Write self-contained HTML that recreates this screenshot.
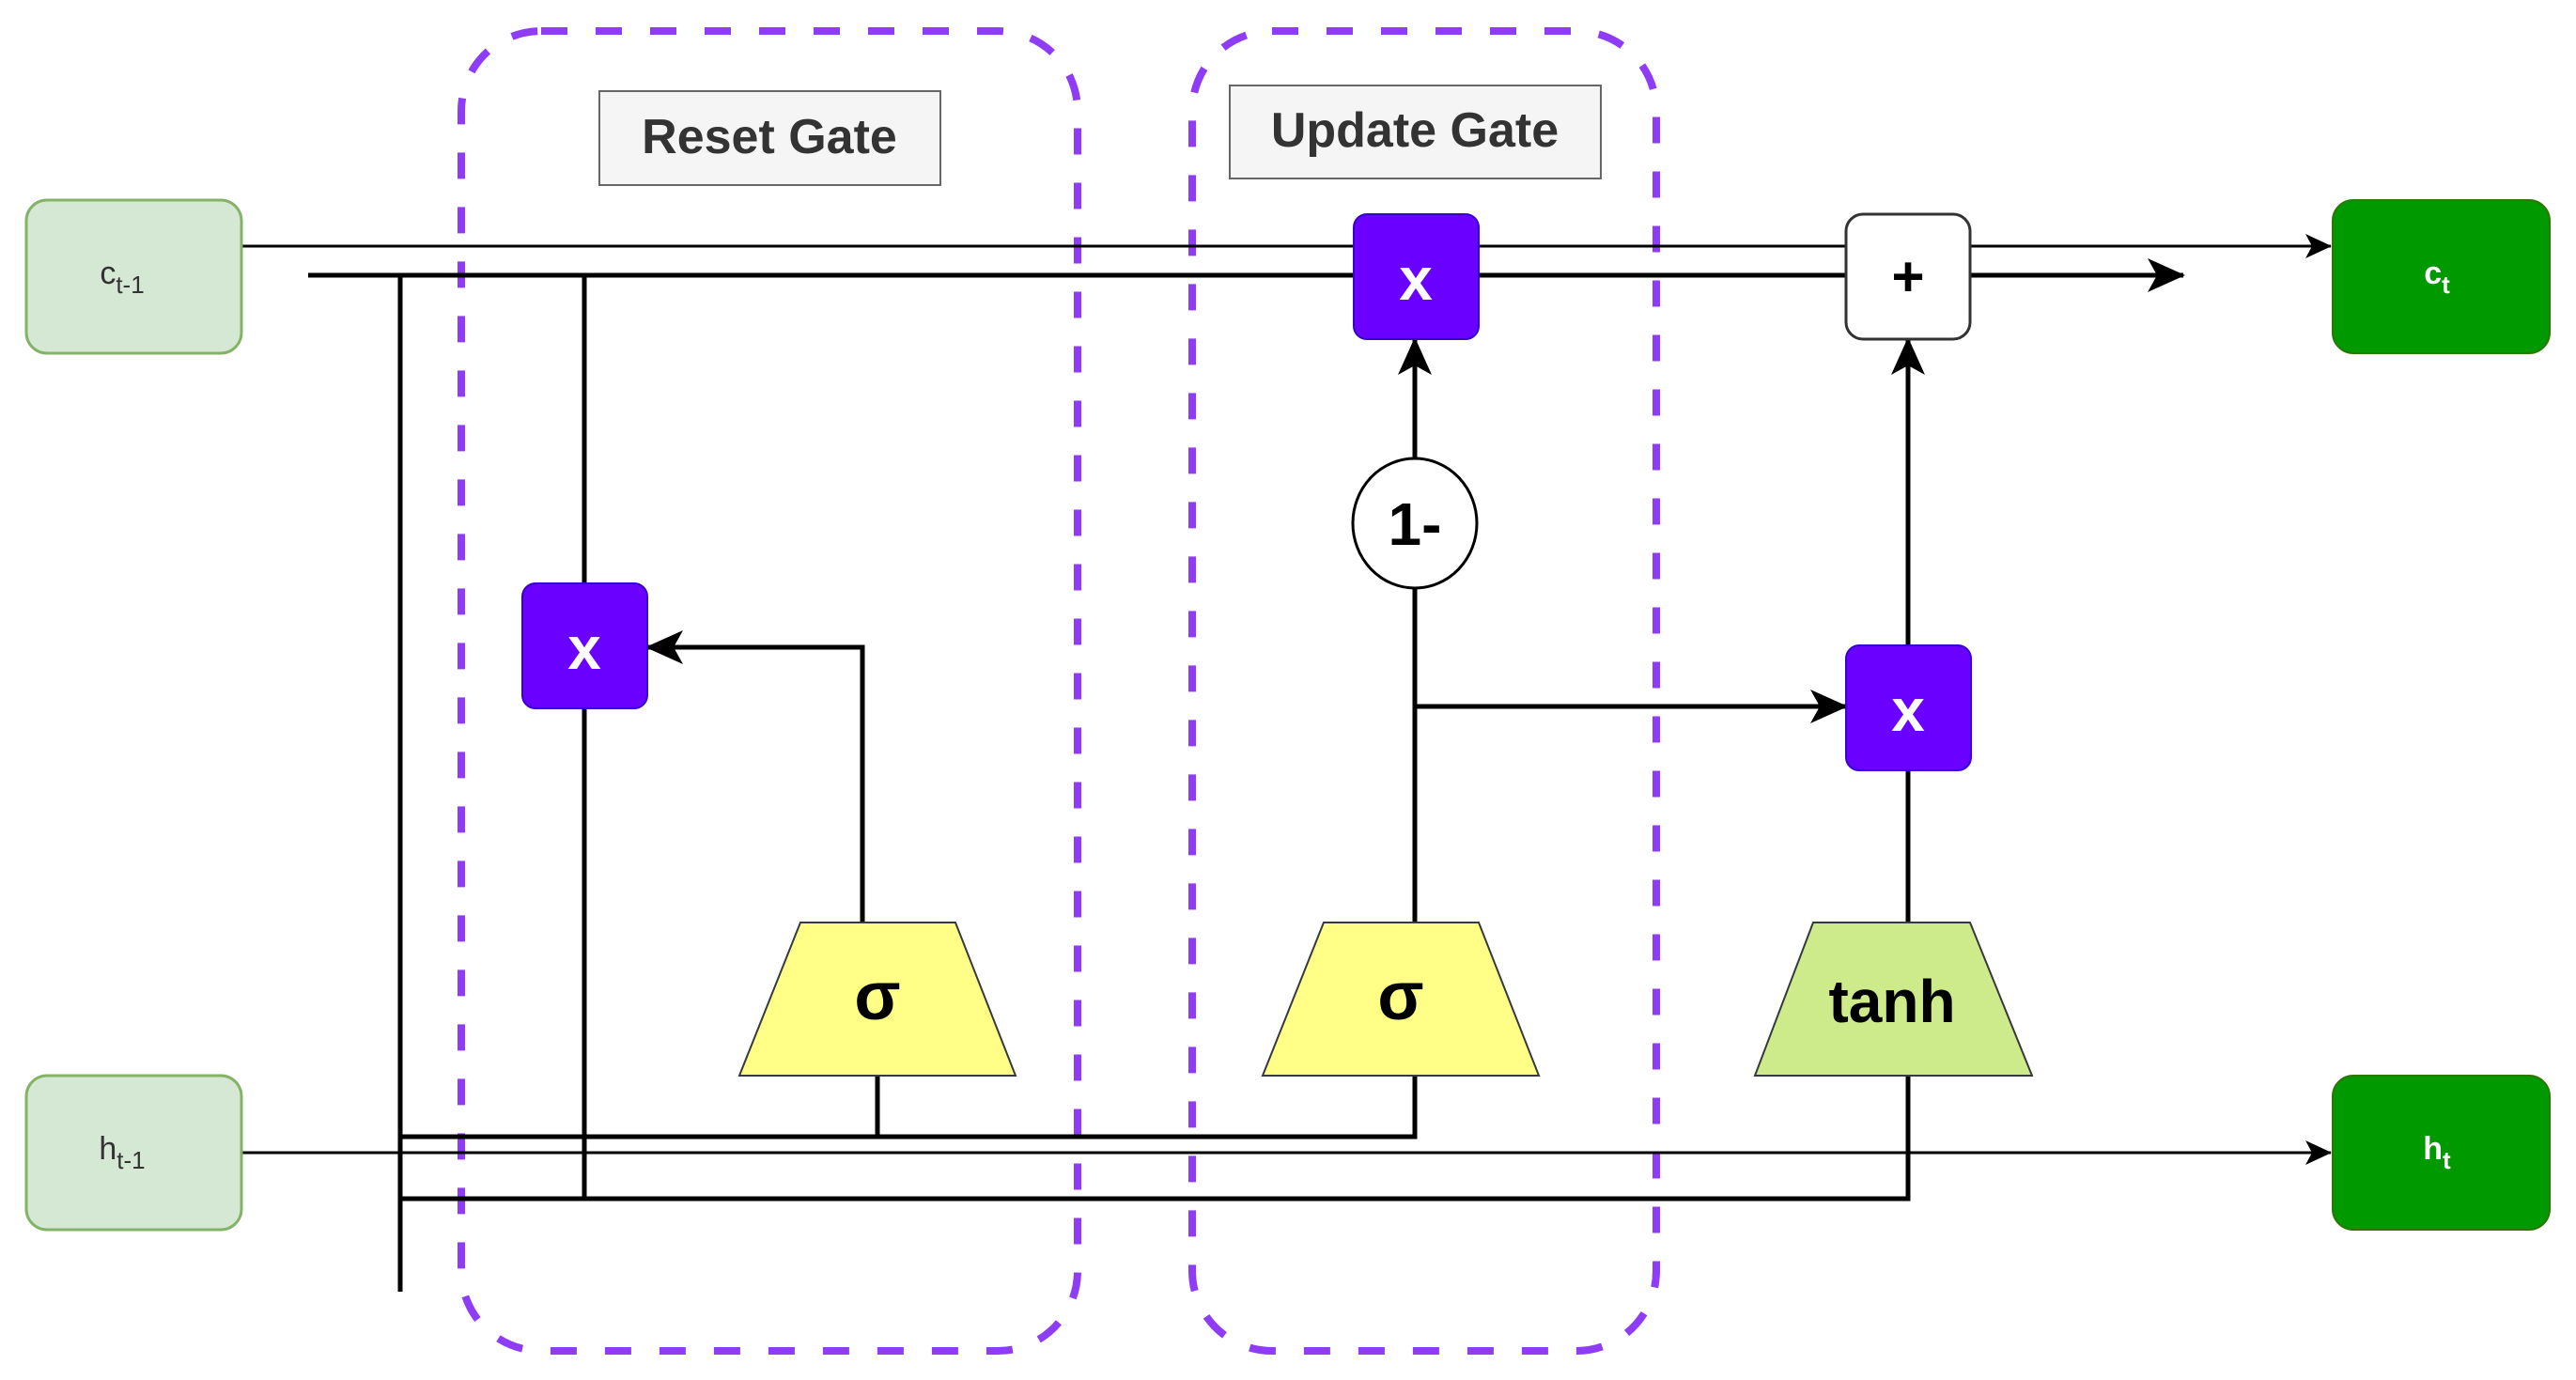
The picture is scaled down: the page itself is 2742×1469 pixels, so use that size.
<!DOCTYPE html>
<html><head><meta charset="utf-8"><style>html,body{margin:0;padding:0;background:#fff}svg{display:block}</style></head>
<body>
<svg width="2742" height="1469" viewBox="0 0 2742 1469" xmlns="http://www.w3.org/2000/svg" font-family="Liberation Sans, Arial, sans-serif">
<defs>
<marker id="b" markerWidth="40" markerHeight="36" refX="38" refY="18" orient="auto" markerUnits="userSpaceOnUse" viewBox="0 0 40 36"><path d="M0,0 L40,18 L0,36 L10,18 Z" fill="#000"/></marker>
<marker id="s" markerWidth="28" markerHeight="26" refX="27" refY="13" orient="auto" markerUnits="userSpaceOnUse" viewBox="0 0 28 26"><path d="M0,0 L28,13 L0,26 L7,13 Z" fill="#000"/></marker>
</defs>
<rect x="491" y="33" width="656" height="1405" rx="85" fill="none" stroke="#8f3cf7" stroke-width="8" stroke-dasharray="28 30"/>
<rect x="1269" y="33" width="494" height="1405" rx="85" fill="none" stroke="#8f3cf7" stroke-width="8" stroke-dasharray="28 30"/>
<rect x="638" y="97" width="363" height="100" fill="#f5f5f5" stroke="#666" stroke-width="2"/>
<text x="819" y="163" font-size="52" font-weight="bold" fill="#333" text-anchor="middle">Reset Gate</text>
<rect x="1309" y="91" width="395" height="99" fill="#f5f5f5" stroke="#666" stroke-width="2"/>
<text x="1506" y="156" font-size="52" font-weight="bold" fill="#333" text-anchor="middle">Update Gate</text>
<line x1="257" y1="262" x2="2481" y2="262" stroke="#000" stroke-width="3" marker-end="url(#s)"/>
<line x1="257" y1="1227" x2="2481" y2="1227" stroke="#000" stroke-width="3" marker-end="url(#s)"/>
<line x1="328" y1="293" x2="2324" y2="293" stroke="#000" stroke-width="5" marker-end="url(#b)"/>
<line x1="426" y1="293" x2="426" y2="1375" stroke="#000" stroke-width="5"/>
<line x1="622" y1="293" x2="622" y2="1276" stroke="#000" stroke-width="5"/>
<polyline points="426,1210 1506,1210 1506,1145" fill="none" stroke="#000" stroke-width="5"/>
<line x1="934" y1="1145" x2="934" y2="1210" stroke="#000" stroke-width="5"/>
<polyline points="426,1276 2031,1276 2031,1145" fill="none" stroke="#000" stroke-width="5"/>
<polyline points="918,982 918,689 689,689" fill="none" stroke="#000" stroke-width="5" marker-end="url(#b)"/>
<line x1="1506" y1="982" x2="1506" y2="627" stroke="#000" stroke-width="5"/>
<line x1="1506" y1="487" x2="1506" y2="361" stroke="#000" stroke-width="5" marker-end="url(#b)"/>
<line x1="1506" y1="752" x2="1965" y2="752" stroke="#000" stroke-width="5" marker-end="url(#b)"/>
<line x1="2031" y1="982" x2="2031" y2="820" stroke="#000" stroke-width="5"/>
<line x1="2031" y1="687" x2="2031" y2="361" stroke="#000" stroke-width="5" marker-end="url(#b)"/>
<rect x="28" y="213" width="229" height="163" rx="22" fill="#d5e8d4" stroke="#82b366" stroke-width="3"/>
<text x="130" y="302" font-size="34" fill="#333" text-anchor="middle">c<tspan font-size="26" dy="10">t-1</tspan></text>
<rect x="28" y="1145" width="229" height="164" rx="22" fill="#d5e8d4" stroke="#82b366" stroke-width="3"/>
<text x="130" y="1234" font-size="34" fill="#333" text-anchor="middle">h<tspan font-size="26" dy="10">t-1</tspan></text>
<rect x="2483" y="213" width="231" height="163" rx="22" fill="#009900" stroke="#2d7600" stroke-width="2"/>
<text x="2594" y="302" font-size="34" font-weight="bold" fill="#fff" text-anchor="middle">c<tspan font-size="26" dy="10">t</tspan></text>
<rect x="2483" y="1145" width="231" height="164" rx="22" fill="#009900" stroke="#2d7600" stroke-width="2"/>
<text x="2594" y="1234" font-size="34" font-weight="bold" fill="#fff" text-anchor="middle">h<tspan font-size="26" dy="10">t</tspan></text>
<rect x="556" y="621" width="133" height="133" rx="14" fill="#6a00ff" stroke="#3700cc" stroke-width="2"/>
<text x="622" y="712" font-size="64" font-weight="bold" fill="#fff" text-anchor="middle">x</text>
<rect x="1441" y="228" width="133" height="133" rx="14" fill="#6a00ff" stroke="#3700cc" stroke-width="2"/>
<text x="1507" y="319" font-size="64" font-weight="bold" fill="#fff" text-anchor="middle">x</text>
<rect x="1965" y="687" width="133" height="133" rx="14" fill="#6a00ff" stroke="#3700cc" stroke-width="2"/>
<text x="2031" y="778" font-size="64" font-weight="bold" fill="#fff" text-anchor="middle">x</text>
<rect x="1965" y="228" width="132" height="133" rx="18" fill="#fff" stroke="#333" stroke-width="3"/>
<text x="2031" y="315" font-size="60" font-weight="bold" fill="#000" text-anchor="middle">+</text>
<ellipse cx="1506" cy="557" rx="66" ry="69" fill="#fff" stroke="#000" stroke-width="3"/>
<text x="1506" y="580" font-size="64" font-weight="bold" fill="#000" text-anchor="middle">1-</text>
<polygon points="852,982 1017,982 1081,1145 787,1145" fill="#ffff88" stroke="#36393d" stroke-width="2"/>
<text x="934" y="1085" font-size="72" font-weight="bold" fill="#000" text-anchor="middle">σ</text>
<polygon points="1409,982 1574,982 1638,1145 1344,1145" fill="#ffff88" stroke="#36393d" stroke-width="2"/>
<text x="1491" y="1085" font-size="72" font-weight="bold" fill="#000" text-anchor="middle">σ</text>
<polygon points="1930,982 2097,982 2163,1145 1868,1145" fill="#cdeb8b" stroke="#36393d" stroke-width="2"/>
<text x="2014" y="1088" font-size="64" font-weight="bold" fill="#000" text-anchor="middle">tanh</text>
</svg>
</body></html>
